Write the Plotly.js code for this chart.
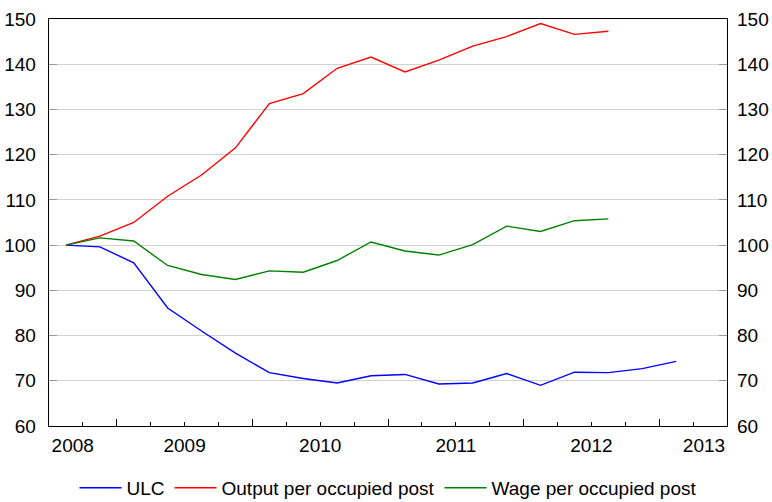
<!DOCTYPE html>
<html>
<head>
<meta charset="utf-8">
<script src="https://cdn.plot.ly/plotly-3.0.1.min.js"></script>
<style>html,body{margin:0;padding:0;background:#fff;}#chart{width:772px;height:502px;}</style>
</head>
<body>
<div id="chart"></div>
<script>
// Quarterly observations, 2008Q1 onwards (index 2008Q1 = 100)
var quarters = ['2008Q1','2008Q2','2008Q3','2008Q4','2009Q1','2009Q2','2009Q3','2009Q4',
                '2010Q1','2010Q2','2010Q3','2010Q4','2011Q1','2011Q2','2011Q3','2011Q4',
                '2012Q1','2012Q2','2012Q3'];
var ulc    = [100, 99.6, 96.1, 86.1, 81.0, 76.1, 71.8, 70.5, 69.5, 71.1, 71.4, 69.3, 69.5, 71.6, 69.0, 71.9, 71.8, 72.7, 74.3];
var output = [100, 102.0, 105.0, 110.8, 115.5, 121.5, 131.3, 133.5, 139.1, 141.6, 138.3, 140.9, 144.0, 146.1, 149.0, 146.6, 147.3];
var wage   = [100, 101.6, 100.9, 95.5, 93.5, 92.4, 94.3, 94.0, 96.6, 100.7, 98.7, 97.8, 100.1, 104.2, 103.0, 105.4, 105.8];
var yearLabels = ['2008','2009','2010','2011','2012','2013'];
var seriesNames = ['ULC','Output per occupied post','Wage per occupied post'];
var seriesColors = ['#0000ff','#ff0000','#008000'];

// position of a quarter on the axis: centre of its quarter slot
function qpos(arr){ return arr.map(function(_, i){ return i + 0.5; }); }

var font = 'Liberation Sans, Arial, Helvetica, sans-serif';
var fs = 19;
var traces = [ulc, output, wage].map(function(vals, k){
  return {
    x: qpos(vals), y: vals, type: 'scatter', mode: 'lines',
    name: seriesNames[k], line: {color: seriesColors[k], width: 1.4},
    hoverinfo: 'skip'
  };
});
// helper trace so the label axes are drawn
traces.push({x: [0, 20], y: [60, 60], xaxis: 'x2', yaxis: 'y2', mode: 'lines',
  line: {width: 0, color: 'rgba(0,0,0,0)'}, showlegend: false, hoverinfo: 'skip'});

var nQ = 20;
var layout = {
  width: 772, height: 502,
  margin: {l: 49, r: 45, t: 19, b: 76, autoexpand: false},
  paper_bgcolor: '#ffffff', plot_bgcolor: '#ffffff',
  font: {family: font, size: fs, color: '#000'},
  showlegend: true,
  legend: {orientation: 'h', x: 0.5, xanchor: 'center', y: -0.152, yanchor: 'middle',
           font: {family: font, size: fs, color: '#000'}, itemwidth: 42, traceorder: 'normal'},
  xaxis: {
    range: [0, nQ], showgrid: false, zeroline: false,
    showline: true, linecolor: '#000', linewidth: 1.3, mirror: true,
    tickmode: 'array', tickvals: [2, 6, 10, 14, 18], ticks: 'inside', ticklen: 7,
    tickcolor: '#000', tickwidth: 1, showticklabels: false,
    minor: {tickmode: 'linear', tick0: 0, dtick: 1, ticks: 'inside', ticklen: 4, tickcolor: '#000', tickwidth: 1, showgrid: false}
  },
  xaxis2: {
    overlaying: 'x', side: 'bottom', anchor: 'y', range: [0, nQ],
    showgrid: false, zeroline: false, showline: false, ticks: '',
    tickmode: 'array', tickvals: [0.7, 4, 8, 12, 16, 19.32], ticktext: yearLabels,
    tickfont: {family: font, size: fs, color: '#000'}, ticklabelstandoff: 6
  },
  yaxis: {
    range: [60, 150], dtick: 10, tick0: 60, showgrid: true, gridcolor: '#d2d2d2', gridwidth: 1.2,
    zeroline: false, showline: true, linecolor: '#000', linewidth: 1.3, mirror: 'ticks',
    ticks: 'inside', ticklen: 8, tickcolor: '#999999', tickwidth: 1.2,
    tickfont: {family: font, size: fs, color: '#000'}, ticklabelstandoff: 8
  },
  yaxis2: {
    overlaying: 'y', side: 'right', anchor: 'x', range: [60, 150], dtick: 10, tick0: 60,
    showgrid: false, zeroline: false, showline: false, ticks: '',
    tickfont: {family: font, size: fs, color: '#000'}, ticklabelstandoff: 9
  }
};

Plotly.newPlot('chart', traces, layout, {staticPlot: true, displayModeBar: false});
</script>
</body>
</html>
